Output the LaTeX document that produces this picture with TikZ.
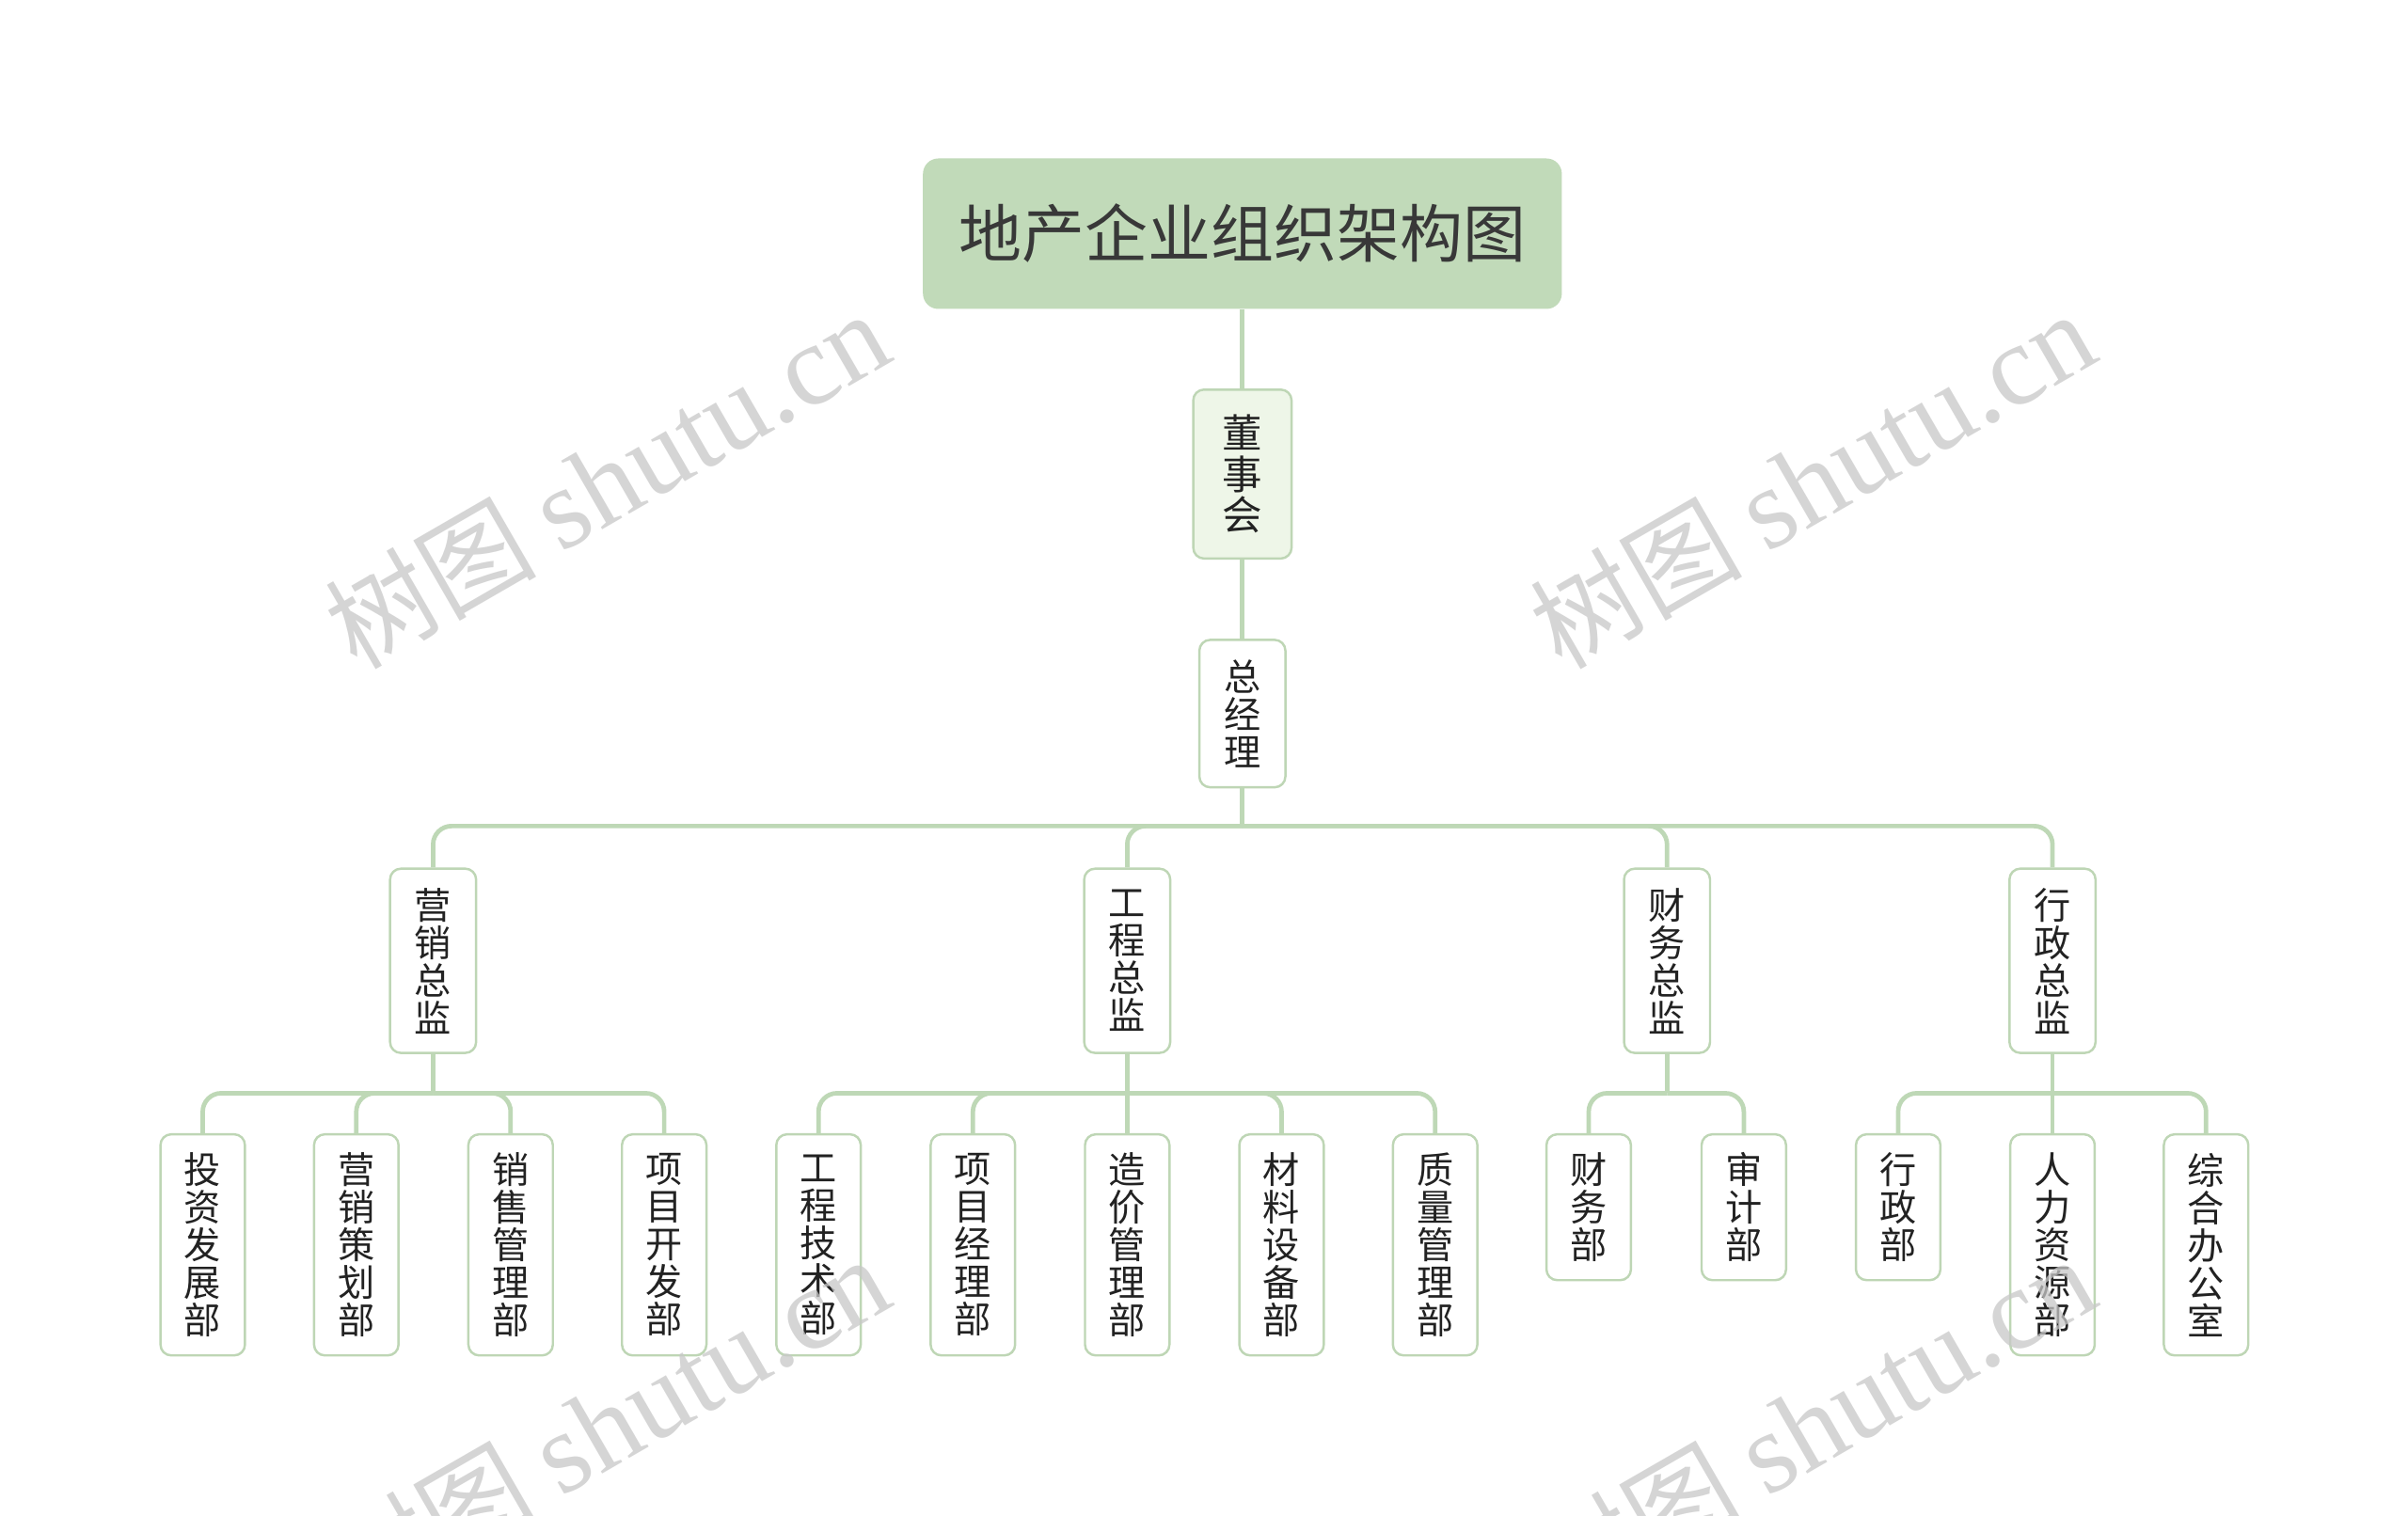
\documentclass[tikz,border=0pt]{standalone}
\usepackage{fontspec}
\newfontfamily\cjk{Noto Sans CJK SC}
\newfontfamily\wmserif{Liberation Serif}
\definecolor{linecol}{RGB}{190,216,182}
\definecolor{bordercol}{RGB}{190,214,181}
\definecolor{rootfill}{RGB}{193,218,185}
\definecolor{boardfill}{RGB}{238,246,232}
\definecolor{txtcol}{RGB}{34,34,34}
\definecolor{wmcol}{RGB}{200,200,200}
\tikzset{
  conn/.style={draw=linecol, line width=2.9pt, rounded corners=12pt},
  stem/.style={draw=linecol, line width=2.9pt},
  rootbox/.style={anchor=north, fill=rootfill, rounded corners=10pt, minimum width=416pt, minimum height=98pt, inner sep=0pt, text=txtcol!90, font=\cjk\fontsize{41}{41}\selectfont},
  vbox/.style={anchor=north, draw=bordercol, line width=1.5pt, fill=white, rounded corners=7pt, inner sep=0pt, align=center, text=txtcol, font=\cjk\fontsize{24}{24.5}\selectfont},
  boardbox/.style={vbox, fill=boardfill, minimum width=64pt, minimum height=110pt, font=\cjk\fontsize{26}{26.5}\selectfont},
  gmbox/.style={vbox, minimum width=56pt, minimum height=96pt},
  dirbox/.style={vbox, minimum width=56pt, minimum height=120pt},
  deptbox/.style={vbox, minimum width=55pt, minimum height=144pt},
  shortbox/.style={vbox, minimum width=55pt, minimum height=95pt},
  wm/.style={rotate=30, text=wmcol, opacity=0.75, inner sep=0pt}
}
\newcommand{\wmtext}{{\cjk\fontsize{69}{69}\selectfont 树图}\hspace{16pt}{\wmserif\fontsize{75}{75}\selectfont shutu.cn}}
\begin{document}
\begin{tikzpicture}[x=1pt, y=-1pt]
\useasboundingbox (0,0) rectangle (1568,987);
\fill[white] (0,0) rectangle (1568,987);

% nodes
\node[rootbox] (root) at (809,103) {地产企业组织架构图};
\node[boardbox] (board) at (809,253) {董\\事\\会};
\node[gmbox] (gm) at (809,416) {总\\经\\理};

\node[dirbox] (d1) at (282,565) {营\\销\\总\\监};
\node[dirbox] (d2) at (734,565) {工\\程\\总\\监};
\node[dirbox] (d3) at (1085.5,565) {财\\务\\总\\监};
\node[dirbox] (d4) at (1336.5,565) {行\\政\\总\\监};

\node[deptbox] (e1) at (132,738) {投\\资\\发\\展\\部};
\node[deptbox] (e2) at (232,738) {营\\销\\策\\划\\部};
\node[deptbox] (e3) at (332.5,738) {销\\售\\管\\理\\部};
\node[deptbox] (e4) at (432.5,738) {项\\目\\开\\发\\部};
\node[deptbox] (e5) at (533,738) {工\\程\\技\\术\\部};
\node[deptbox] (e6) at (633.5,738) {项\\目\\经\\理\\部};
\node[deptbox] (e7) at (734,738) {造\\价\\管\\理\\部};
\node[deptbox] (e8) at (834.5,738) {材\\料\\设\\备\\部};
\node[deptbox] (e9) at (934.5,738) {质\\量\\管\\理\\部};
\node[shortbox] (e10) at (1034.5,738) {财\\务\\部};
\node[shortbox] (e11) at (1135.5,738) {审\\计\\部};
\node[shortbox] (e12) at (1236,738) {行\\政\\部};
\node[deptbox] (e13) at (1336.5,738) {人\\力\\资\\源\\部};
\node[deptbox] (e14) at (1436.5,738) {综\\合\\办\\公\\室};

% junction coordinates
\coordinate (jgm) at (809,538);
\coordinate (j1) at (282,712);
\coordinate (j2) at (734,712);
\coordinate (j3) at (1085.5,712);
\coordinate (j4) at (1336.5,712);

% connectors
\draw[stem] (root.south) -- (board.north);
\draw[stem] (board.south) -- (gm.north);
\draw[stem] (gm.south) -- (jgm);
\foreach \c in {d1,d2,d3,d4} \draw[conn] (jgm) -| (\c.north);
\draw[stem] (d1.south) -- (j1);
\foreach \c in {e1,e2,e3,e4} \draw[conn] (j1) -| (\c.north);
\draw[stem] (d2.south) -- (j2);
\foreach \c in {e5,e6,e7,e8,e9} \draw[conn] (j2) -| (\c.north);
\draw[stem] (d3.south) -- (j3);
\foreach \c in {e10,e11} \draw[conn] (j3) -| (\c.north);
\draw[stem] (d4.south) -- (j4);
\foreach \c in {e12,e13,e14} \draw[conn] (j4) -| (\c.north);

% watermarks
\node[wm] (wm1) at (395,313) {\wmtext};
\node[wm] (wm2) at (1180,313) {\wmtext};
\node[wm] (wm3) at (395,928) {\wmtext};
\node[wm] (wm4) at (1180,928) {\wmtext};
\end{tikzpicture}
\end{document}
